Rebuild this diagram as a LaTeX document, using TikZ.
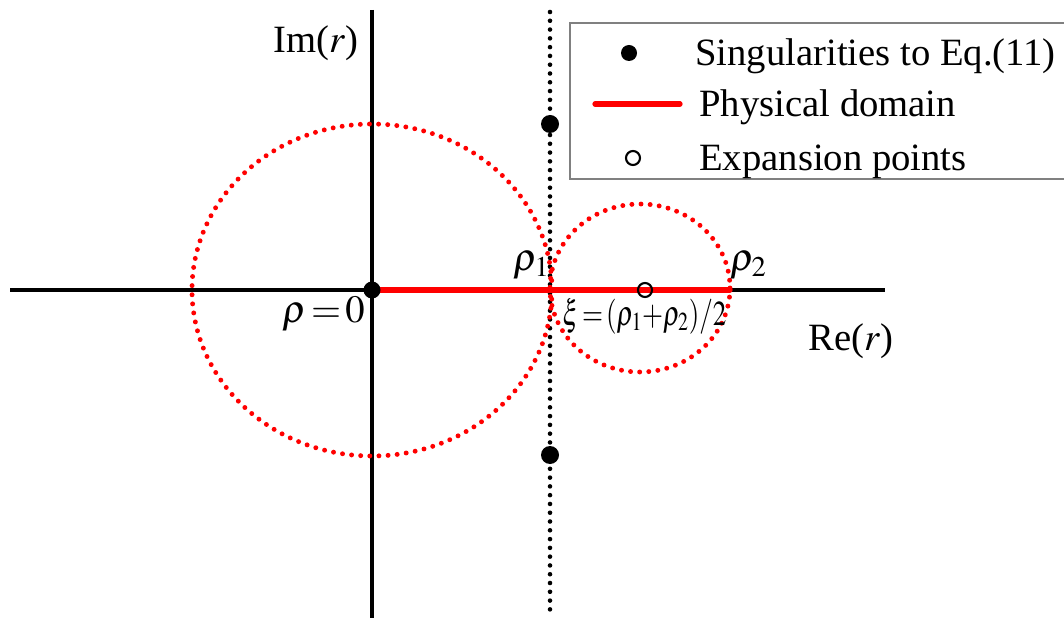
\documentclass[tikz,border=0pt]{standalone}
\usepackage{mathptmx}
\usepackage{fontspec}
\setmainfont{Liberation Serif}
\usetikzlibrary{calc}
\definecolor{domainred}{HTML}{FF0000}
\definecolor{boxgray}{HTML}{808080}
\tikzset{
  axisline/.style={line width=2.3pt,black},
  reddots/.style={domainred,line width=2.8pt,line cap=round,dash pattern=on 0pt off 5.2pt},
  blackdots/.style={black,line width=2.6pt,line cap=round,dash pattern=on 0pt off 5pt},
  lbl/.style={font=\fontsize{22}{26}\selectfont,inner sep=0pt},
}

\begin{document}
\begin{tikzpicture}[x=0.02cm,y=-0.02cm]
  \useasboundingbox (0,0) rectangle (1064,621);
  \clip (0,0) rectangle (1064,621);
  \coordinate (O) at (372,290);
  \coordinate (rho1) at (550,290);
  \coordinate (rho2) at (730,290);
  \coordinate (xi) at (645,290);
  % axes and the line through rho_1
  \draw[axisline] (10,290) -- (885,290);
  \draw[axisline] (372,10) -- (372,618);
  \draw[blackdots] (550,12) -- (550,618);
  % circles of convergence
  \draw[reddots] (O) ellipse [x radius=180, y radius=166];
  \draw[reddots] (640,288) ellipse [x radius=90, y radius=84];
  % physical domain and points
  \draw[domainred,line width=3pt,line cap=round] (O) -- (rho2);
  \fill (O) circle [radius=8.5];
  \fill (550,124) circle [radius=9];
  \fill (550,455) circle [radius=9];
  \draw[line width=1.2pt] (xi) circle [radius=7];
  \node[lbl,anchor=base west] (imlabel) at (273,53) {Im($r$)};
  \node[lbl,anchor=base west] (relabel) at (808,350) {Re($r$)};
  \node[lbl,anchor=base west] (zerolabel) at (282,322) {$\rho\,{=}\,0$};
  \node[lbl,anchor=base west] (rhoonelabel) at (513,271) {$\rho_1$};
  \node[lbl,anchor=base west] (rhotwolabel) at (730,271) {$\rho_2$};
  \node[lbl,font=\fontsize{20}{24}\selectfont,anchor=base west] (xilabel) at (562,325)
    {\scalebox{0.77}[1]{$\xi\,{=}\,(\rho_1{+}\rho_2)/2$}};
  % legend
  \draw[boxgray,line width=0.9pt] (570,23) rectangle (1075,179);
  \fill (629,53) circle [radius=8];
  \draw[domainred,line width=3pt,line cap=round] (595,104) -- (680,104);
  \draw[line width=1.2pt] (633,158) circle [radius=7];
  \node[lbl,anchor=base west] (singtext) at (695,66) {Singularities to Eq.(11)};
  \node[lbl,anchor=base west] (domaintext) at (699,117) {Physical domain};
  \node[lbl,anchor=base west] (expansiontext) at (699,171) {Expansion points};
\end{tikzpicture}
\end{document}
